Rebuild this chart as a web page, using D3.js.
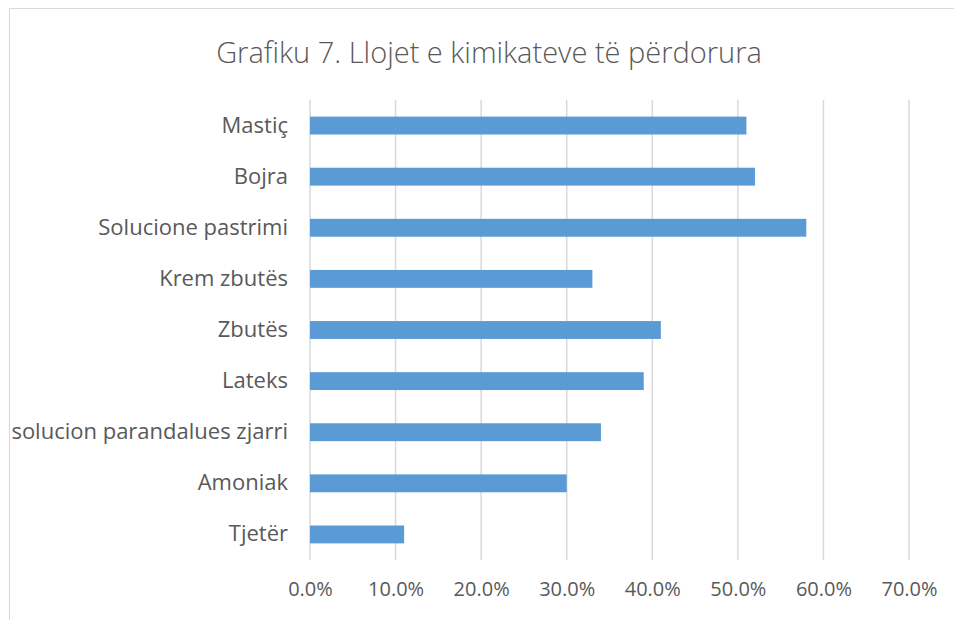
<!DOCTYPE html>
<html>
<head>
<meta charset="utf-8">
<script src="https://cdn.jsdelivr.net/npm/d3@7"></script>
<style>
  body { margin: 0; background: #fff; }
  text { font-family: "Open Sans", sans-serif; fill: #595959; }
</style>
</head>
<body>
<div id="vis"></div>
<script>
// chart data
var categories = ['Mastiç', 'Bojra', 'Solucione pastrimi', 'Krem zbutës', 'Zbutës',
    'Lateks', 'solucion parandalues zjarri', 'Amoniak', 'Tjetër'];
var values = [0.51, 0.52, 0.58, 0.33, 0.41, 0.39, 0.34, 0.30, 0.11];
var ticks = [0, 0.1, 0.2, 0.3, 0.4, 0.5, 0.6, 0.7];
var title = 'Grafiku 7. Llojet e kimikateve të përdorura';

var width = 954;
var height = 620;

var margin = {
    top: 100,
    bottom: 60,
    left: 310,
    right: 45
};

var svg = d3.select('#vis')
    .append('svg')
    .attr('width', width)
    .attr('height', height);

// chart frame
svg.append('rect')
    .attr('x', 9.5)
    .attr('y', 8.5)
    .attr('width', width)
    .attr('height', height)
    .attr('fill', '#fff')
    .attr('stroke', '#d9d9d9');

svg.append('text')
    .attr('x', 489)
    .attr('y', 63)
    .attr('text-anchor', 'middle')
    .style('font-size', '29px')
    .style('font-weight', 300)
    .text(title);

var x_scale = d3.scaleLinear()
    .domain([0, 0.7])
    .range([margin.left, width - margin.right]);

var y_scale = d3.scaleBand()
    .domain(categories)
    .range([margin.top, height - margin.bottom])
    .paddingInner(0.65)
    .paddingOuter(0.325);

// gridlines
svg.append('g')
    .selectAll('line')
    .data(ticks)
    .enter()
    .append('line')
    .attr('x1', function(d) { return x_scale(d); })
    .attr('x2', function(d) { return x_scale(d); })
    .attr('y1', margin.top)
    .attr('y2', height - margin.bottom)
    .attr('stroke', '#d9d9d9')
    .attr('stroke-width', 1.5);

svg.append('g')
    .selectAll('.bar')
    .data(values)
    .enter()
    .append('rect')
    .attr('class', 'bar')
    .attr('x', x_scale(0))
    .attr('y', function(d, i) { return y_scale(categories[i]); })
    .attr('height', y_scale.bandwidth())
    .attr('width', function(d) { return x_scale(d) - x_scale(0); })
    .attr('fill', '#5b9bd5');

var x_axis = d3.axisBottom(x_scale)
    .tickValues(ticks)
    .tickSize(0)
    .tickPadding(0)
    .tickFormat(d3.format('.1%'));

var gx = svg.append('g')
    .attr('transform', 'translate(0,' + (height - margin.bottom + 22) + ')')
    .call(x_axis);
gx.select('.domain').remove();
gx.selectAll('text')
    .style('font-size', '20px')
    .attr('fill', '#595959');

var y_axis = d3.axisLeft(y_scale)
    .tickSize(0)
    .tickPadding(22);

var gy = svg.append('g')
    .attr('transform', 'translate(' + margin.left + ',0)')
    .call(y_axis);
gy.select('.domain').remove();
gy.selectAll('text')
    .style('font-size', '22px')
    .attr('fill', '#595959');
</script>
</body>
</html>
